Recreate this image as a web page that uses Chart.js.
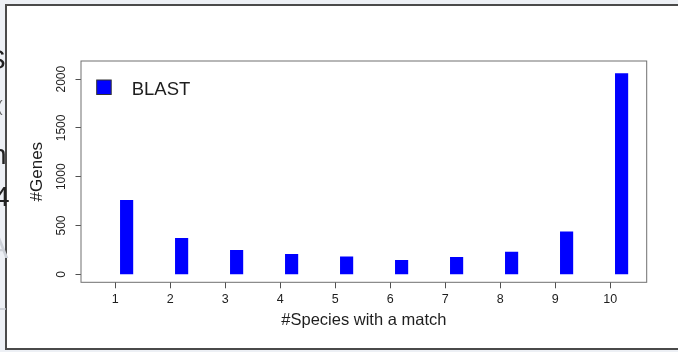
<!DOCTYPE html>
<html>
<head>
<meta charset="utf-8">
<title>#Genes by #Species with a match</title>
<script src="https://cdn.jsdelivr.net/npm/chart.js@4.4.1/dist/chart.umd.min.js"></script>
<style>
  html, body { margin: 0; padding: 0; width: 678px; height: 352px; overflow: hidden; background: #edf0f5; }
  #panel { position: absolute; left: 5px; top: 4px; width: 700px; height: 346px; background: #fff;
           border: 2px solid #4a4a4a; border-right: none; box-sizing: border-box; z-index: 1; }
  #edge { position: absolute; left: 0; top: 0; width: 10px; height: 352px; overflow: hidden; z-index: 3;
          font-family: "Liberation Sans", Arial, sans-serif; font-size: 28px; line-height: 28px; color: #222; }
  #edge span { position: absolute; white-space: nowrap; }
  #edge .faint { color: #cdd1d8; }
  #chart { position: absolute; left: 0; top: 0; z-index: 2; }
</style>
</head>
<body>
<div id="panel"></div>
<div id="edge">
  <span style="top:46px;left:-13px;">S</span>
  <span style="top:93px;left:-3px;font-size:17px;color:#666;">(</span>
  <span style="top:141px;left:-9px;">n</span>
  <span style="top:183px;left:-6px;">4</span>
  <span class="faint" style="top:233px;left:-13px;font-size:32px;">A</span>
  <span class="faint" style="top:287px;left:-9px;">L</span>
</div>
<canvas id="chart" width="678" height="352"></canvas>
<script>
// Number of species in which a gene found a BLAST match
const speciesCounts = [1, 2, 3, 4, 5, 6, 7, 8, 9, 10];
const speciesLabels = ['1', '2', '3', '4', '5', '6', '7', '8', '9', '10'];
// Genes per species count
const blastGenes = [758, 369, 246, 205, 180, 143, 174, 228, 436, 2058];
// Value axis tick marks
const geneTicks = [0, 500, 1000, 1500, 2000];

const FONT = '"Liberation Sans", Arial, Helvetica, sans-serif';
const TEXT = '#1e1e1e';

// Visible x range (in species units); bars sit a little to the right of their tick
const X_MIN = 0.376, X_MAX = 10.662, BAR_SHIFT = 0.2055;

// Box around the plotting region
const plotBox = {
  id: 'plotBox',
  afterDraw(chart) {
    const { ctx, chartArea: a } = chart;
    ctx.save();
    ctx.strokeStyle = '#707070';
    ctx.lineWidth = 1;
    ctx.strokeRect(a.left, a.top, a.right - a.left, a.bottom - a.top);
    ctx.restore();
  }
};

// Legend drawn inside the plot, top-left corner
const innerLegend = {
  id: 'innerLegend',
  afterDraw(chart) {
    const { ctx, chartArea: a } = chart;
    const ds = chart.data.datasets[0];
    const x = a.left + 15.7, y = a.top + 19, s = 14.5;
    ctx.save();
    ctx.fillStyle = ds.backgroundColor;
    ctx.fillRect(x, y, s, s);
    ctx.strokeStyle = '#333';
    ctx.lineWidth = 1;
    ctx.strokeRect(x, y, s, s);
    ctx.fillStyle = TEXT;
    ctx.font = '18.5px ' + FONT;
    ctx.textBaseline = 'alphabetic';
    ctx.textAlign = 'left';
    ctx.fillText(ds.label, x + s + 20.5, a.top + 33.5);
    ctx.restore();
  }
};

new Chart(document.getElementById('chart'), {
  type: 'bar',
  data: {
    datasets: [{
      label: 'BLAST',
      data: blastGenes.map((v, i) => ({ x: speciesCounts[i], y: v })),
      backgroundColor: '#0000ff',
      borderWidth: 0,
      barThickness: 12.5,
      xAxisID: 'xBar',
      yAxisID: 'y'
    }]
  },
  options: {
    responsive: false,
    devicePixelRatio: 1,
    animation: false,
    layout: { padding: { left: 0, right: 31.3, top: 61, bottom: 0 } },
    plugins: { legend: { display: false }, tooltip: { enabled: false } },
    scales: {
      xBar: {
        type: 'linear',
        display: false,
        offset: false,
        grid: { offset: false },
        min: X_MIN - BAR_SHIFT,
        max: X_MAX - BAR_SHIFT
      },
      x: {
        type: 'linear',
        position: 'bottom',
        offset: false,
        min: X_MIN,
        max: X_MAX,
        afterBuildTicks: s => { s.ticks = speciesCounts.map(v => ({ value: v })); },
        afterFit: s => { s.height = 69.7; },
        border: { display: false },
        grid: { offset: false, drawOnChartArea: false, drawTicks: true, tickLength: 6, color: '#505050', lineWidth: 1 },
        ticks: {
          padding: 4,
          color: TEXT,
          font: { family: FONT, size: 12.5 },
          maxRotation: 0,
          callback: (v, i) => speciesLabels[i]
        },
        title: {
          display: true,
          text: '#Species with a match',
          color: TEXT,
          font: { family: FONT, size: 16.5 },
          padding: { top: 0, bottom: 21.6 }
        }
      },
      y: {
        type: 'linear',
        position: 'left',
        min: -82,
        max: 2186,
        afterBuildTicks: s => { s.ticks = geneTicks.map(v => ({ value: v })); },
        afterFit: s => { s.width = 81; },
        border: { display: false },
        grid: { drawOnChartArea: false, drawTicks: true, tickLength: 5.5, color: '#505050', lineWidth: 1 },
        ticks: {
          padding: 0.5,
          color: TEXT,
          font: { family: FONT, size: 12 },
          minRotation: 90,
          maxRotation: 90,
          crossAlign: 'center',
          callback: v => String(v)
        },
        title: {
          display: true,
          text: '#Genes',
          color: TEXT,
          font: { family: FONT, size: 17 },
          padding: { top: 27, bottom: 0 }
        }
      }
    }
  },
  plugins: [plotBox, innerLegend]
});
</script>
</body>
</html>
